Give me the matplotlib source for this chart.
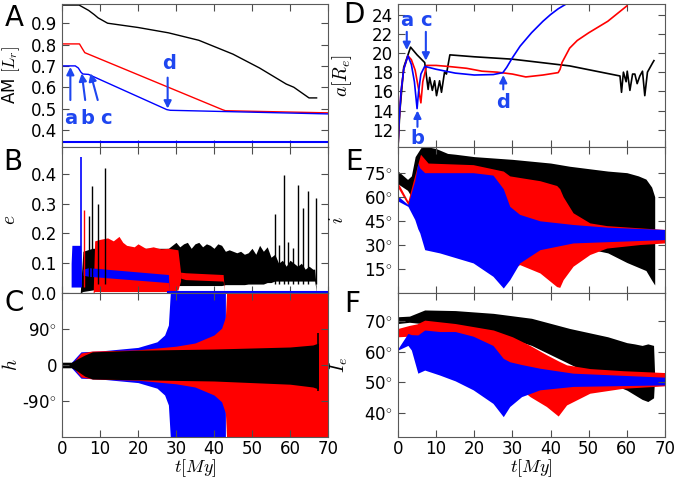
import matplotlib
matplotlib.use("Agg")
import matplotlib.pyplot as plt

plt.rcParams['mathtext.fontset'] = 'cm'
plt.rcParams['font.family'] = ['DejaVu Sans']

BLUE = '#0000ff'
RED = '#ff0000'
ANN = '#1e46f0'

# ---------------- A: angular momentum ----------------
tA_black = [0, 4.5, 5.5, 7, 8.5, 9.5, 11, 12, 20, 28, 36, 45, 52, 59, 61, 63, 65, 67]
am_black = [0.985, 0.985, 0.975, 0.96, 0.94, 0.925, 0.91, 0.90, 0.88, 0.855, 0.82, 0.755,
            0.69, 0.615, 0.60, 0.575, 0.55, 0.55]
tA_red = [0, 4.6, 5.2, 6.0, 42.2, 43, 70]
am_red = [0.803, 0.803, 0.785, 0.762, 0.495, 0.49, 0.48]
tA_blue = [0, 3.5, 4.3, 5.0, 5.5, 7.0, 27.6, 28.5, 70]
am_blue = [0.70, 0.70, 0.69, 0.67, 0.662, 0.66, 0.495, 0.492, 0.475]
tA_base = [0, 70]
am_base = [0.345, 0.345]

# ---------------- B: eccentricity ----------------
tB_blue1 = [2.4, 2.6, 4.9, 5.0]
eB_blue1_hi = [0.10, 0.16, 0.16, 0.12]
eB_blue1_lo = [0.02, 0.02, 0.02, 0.02]
tB_blue2 = [5.5, 7, 28, 28.2]
eB_blue2_hi = [0.08, 0.085, 0.062, 0.0]
eB_blue2_lo = [0.06, 0.056, 0.035, 0.0]
tB_red1 = [8.2, 8.6, 10, 12, 13.5, 15, 16, 17, 19, 20, 22, 24, 26, 28, 30.5, 31.2]
eB_red1_hi = [0.0, 0.175, 0.18, 0.185, 0.175, 0.19, 0.17, 0.16, 0.155, 0.165, 0.15,
              0.155, 0.148, 0.15, 0.145, 0.07]
eB_red1_lo = [0.0, 0.005, 0.005, 0.005, 0.005, 0.005, 0.005, 0.005, 0.005, 0.005, 0.005,
              0.005, 0.005, 0.005, 0.01, 0.04]
tB_red2 = [31.2, 32.5, 42.4, 42.8]
eB_red2_hi = [0.07, 0.068, 0.062, 0.0]
eB_red2_lo = [0.05, 0.045, 0.04, 0.0]
tB_black = [4.8, 5.5, 8, 12, 16, 20, 24, 28, 29, 30, 31, 32, 33, 34, 35, 36, 37, 38, 39,
            40, 41, 42, 43, 44, 45, 46, 47, 48, 49, 50, 51, 52, 53, 54, 55, 56, 57, 58,
            59, 60, 61, 62, 63, 64, 65, 66, 66.5, 67]
eB_black_hi = [0.0, 0.14, 0.15, 0.15, 0.15, 0.15, 0.15, 0.15, 0.16, 0.17, 0.155, 0.165,
               0.17, 0.15, 0.165, 0.17, 0.155, 0.165, 0.16, 0.15, 0.165, 0.16, 0.14,
               0.145, 0.14, 0.135, 0.14, 0.13, 0.135, 0.15, 0.13, 0.16, 0.14, 0.155, 0.12,
               0.13, 0.10, 0.11, 0.09, 0.11, 0.10, 0.09, 0.10, 0.08, 0.09, 0.08, 0.08, 0.0]
eB_black_lo = [0.0, 0.005, 0.01, 0.02, 0.02, 0.02, 0.02, 0.02, 0.025, 0.025, 0.025, 0.025,
               0.025, 0.025, 0.025, 0.025, 0.025, 0.025, 0.025, 0.025, 0.025, 0.025,
               0.028, 0.028, 0.028, 0.028, 0.028, 0.028, 0.03, 0.03, 0.03, 0.03, 0.03,
               0.035, 0.035, 0.04, 0.04, 0.04, 0.04, 0.04, 0.04, 0.04, 0.04, 0.04, 0.04,
               0.04, 0.04, 0.0]
spk_black_t = [7.1, 8.0, 9.6, 11.2, 56.1, 57.2, 58.5, 59.6, 60.8, 62.0, 63.3, 64.8, 66.8]
spk_black_e = [0.26, 0.36, 0.30, 0.42, 0.265, 0.16, 0.397, 0.17, 0.15, 0.364, 0.285, 0.343, 0.318]
spk_blue_t = [5.0]
spk_blue_e = [0.456]
spk_red_t = [5.8]
spk_red_e = [0.28]

# ---------------- C: h (deg) ----------------
tC_blue = [2.5, 5, 10, 20, 25, 27, 28, 28.5, 43]
hC_blue = [7, 33, 35, 44, 58, 75, 100, 180, 180]
tC_red = [3, 5, 8, 20, 30, 35, 40, 42, 43, 43.3, 70]
hC_red = [7, 30, 35, 38, 47, 55, 75, 92, 120, 180, 180]
tC_black = [0, 2.5, 4, 6, 8, 20, 40, 60, 66, 67.5]
hC_black_hi = [7, 7, 15, 25, 33, 37, 40, 45, 50, 55]
hC_black_lo = [-7, -7, -15, -28, -35, -37, -40, -48, -55, -60]

# ---------------- D: semi-major axis ----------------
tD_blue = [0, 0.3, 0.8, 1.5, 2.6, 3.5, 4.3, 5.0, 5.4, 6.0, 7.0, 10, 15, 20, 25, 27.5,
           28.5, 30, 32, 35, 38, 40, 42, 44.5]
aD_blue = [10.2, 13, 16, 18.3, 19.7, 18.8, 17, 14.2, 16, 17.8, 18.6, 18.3, 17.9, 17.7,
           17.75, 17.95, 18.5, 19.5, 20.7, 22.1, 23.3, 24.0, 24.6, 25.2]
tD_red = [0, 0.3, 0.8, 1.5, 2.6, 3.5, 4.5, 5.5, 6.0, 6.5, 7.5, 10, 13, 18, 22, 26, 30,
          33.5, 38, 42, 42.5, 43, 45, 47, 50, 55, 60]
aD_red = [10.2, 13, 16, 18.3, 19.7, 19.3, 18.2, 16, 14.8, 17, 18.7, 18.7, 18.6, 18.4,
          18.1, 18.0, 17.8, 17.5, 17.7, 17.95, 18.3, 19.0, 20.5, 21.3, 22.1, 23.3, 24.9]
tD_black = [0, 0.5, 1.5, 3.3, 5, 7, 7.9, 8.3, 9.0, 9.6, 10.1, 10.9, 11.4, 12.2, 12.7, 13.6,
            20, 30, 45, 58.2, 58.6, 59.1, 59.8, 60.1, 60.8, 61.5, 62.1, 62.7, 63.4, 64.1,
            64.7, 65.4, 66.1, 66.8, 67.1]
aD_black = [10.2, 14, 18.5, 20.6, 19.8, 19.0, 16.2, 17.45, 16.1, 17.1, 15.55, 17.1, 15.9,
            18.0, 17.8, 19.8, 19.6, 19.35, 18.65, 17.6, 15.9, 18.0, 17.0, 18.1, 16.1, 17.8,
            17.8, 16.8, 17.6, 18.1, 15.55, 18.0, 18.5, 19.0, 19.2]

# ---------------- E: inclination i (deg) ----------------
tE_black = [0, 2.5, 3.5, 4.5, 6, 8, 10, 13, 15, 20, 30, 40, 45, 50, 55, 60, 63, 65, 66.5, 67.3]
iE_black_hi = [76, 70.8, 73, 85, 90.6, 91, 90, 87, 86.5, 85, 83.3, 81, 79, 77.5, 76, 75,
               73, 71, 66, 60]
iE_black_lo = [68, 64, 60, 60, 55, 50, 45, 42, 40, 38, 34, 31, 29, 27.5, 25, 19, 16, 14, 8, 5]
tE_red = [0, 2.6, 4, 5.9, 7.9, 19.7, 27.6, 29.3, 31.9, 37.2, 41.6, 42.4, 43.3, 45.9,
          50.3, 54.7, 63.4, 70]
iE_red_hi = [68.7, 57.3, 70, 86.5, 81, 80, 76, 73, 72, 70, 67, 65, 60, 50, 43.7, 42,
             40.6, 39.6]
iE_red_lo = [65.6, 55, 55, 45, 35, 25, 15, 14, 17.7, 12.5, 4, 3.5, 8.3, 16.7, 24, 28,
             30.2, 31.2]
tE_blue = [0, 2.6, 4.4, 5.2, 5.7, 7, 10.9, 19.7, 24.9, 27.6, 29.3, 31.9, 37.2, 45.9, 55, 70]
iE_blue_hi = [60.4, 55.2, 70, 81, 78, 75, 75, 75, 73.5, 65, 54, 49, 45, 42.7, 41, 39.6]
iE_blue_lo = [57.3, 54, 45.8, 40, 37.5, 27, 25, 18.75, 10.4, 3.1, 8.3, 18.75, 27, 31.2,
              32, 33.3]

# ---------------- F: equatorial inclination I_e (deg) ----------------
tF_black = [0, 3, 7, 15, 25, 35, 45, 55, 60, 62, 64, 65.5, 67, 67.3]
IF_black_hi = [71.3, 71.5, 73.5, 73.3, 72.4, 70.8, 67.5, 64.8, 62.9, 62.5, 62, 62.5, 62, 52]
IF_black_lo = [69.1, 69.5, 69, 68, 66, 62, 56, 50, 47.5, 46, 44.5, 43.8, 45, 52]
tF_red = [0, 3, 5, 7, 15, 25, 30, 34.6, 38.9, 42, 44.2, 50.3, 59, 70]
IF_red_hi = [67.5, 68.5, 69, 70.2, 69.1, 67, 64.8, 62, 59, 57, 55.7, 54.5, 53.8, 53.2]
IF_red_lo = [64.8, 65, 63, 60, 58, 55, 50, 45.4, 42.2, 39.1, 42.7, 46.5, 48.1, 48.9]
tF_blue = [0, 2.6, 3.5, 5.2, 7, 10.9, 15, 19.7, 24.9, 27.6, 29.3, 32.4, 37.2, 45.9, 70]
IF_blue_hi = [61, 65.9, 65.5, 65.4, 67, 66.5, 66.5, 65, 62, 57.8, 56.7, 55.8, 54.6, 53, 51.7]
IF_blue_lo = [60.5, 62, 60.5, 53, 54, 52.4, 50.5, 47.6, 43.2, 38.9, 42.2, 45.4, 47.6,
              48.7, 49.2]

xticks = [0, 10, 20, 30, 40, 50, 60, 70]

W, H = 677, 482
fig = plt.figure(figsize=(W / 100, H / 100), dpi=100)


def make_ax(x0, x1, y0, y1):
    ax = fig.add_axes([x0 / W, 1 - y1 / H, (x1 - x0) / W, (y1 - y0) / H])
    ax.set_xlim(0, 70)
    ax.set_xticks(xticks)
    ax.tick_params(direction='in', top=True, right=True, length=5, labelsize=12,
                   color='0.3')
    ax.tick_params(axis='x', pad=2)
    for s in ax.spines.values():
        s.set_color('0.35')
    return ax


rows = [(4, 147), (147, 293), (293, 437)]
axA = make_ax(62, 328, *rows[0])
axB = make_ax(62, 328, *rows[1])
axC = make_ax(62, 328, *rows[2])
axD = make_ax(398, 665, *rows[0])
axE = make_ax(398, 665, *rows[1])
axF = make_ax(398, 665, *rows[2])

for ax in (axA, axB, axD, axE):
    ax.tick_params(labelbottom=False)
for ax in (axC, axF):
    ax.set_xlabel(r'$t[My]$', fontsize=13, labelpad=0)


def arrow(ax, x, y0, y1, x1=None):
    ax.annotate('', xy=(x if x1 is None else x1, y1), xytext=(x, y0),
                arrowprops=dict(arrowstyle='-|>', color=ANN, lw=1.5,
                                mutation_scale=11, shrinkA=0, shrinkB=0))


def label(ax, x, y, s):
    ax.text(x, y, s, color=ANN, fontsize=14, fontweight='bold', ha='center', va='center')


# A
axA.plot(tA_black, am_black, color='k', lw=1)
axA.plot(tA_red, am_red, color=RED, lw=1)
axA.plot(tA_blue, am_blue, color=BLUE, lw=1)
axA.plot(tA_base, am_base, color=BLUE, lw=1.5)
axA.set_ylim(0.32, 0.99)
axA.set_yticks([0.4, 0.5, 0.6, 0.7, 0.8, 0.9])
axA.set_ylabel(r'AM $[L_r]$', fontsize=12)
axA.yaxis.set_label_coords(-0.15, 0.5)
arrow(axA, 2.2, 0.54, 0.695)
arrow(axA, 6.1, 0.54, 0.665, 5.2)
arrow(axA, 9.4, 0.54, 0.665, 7.5)
arrow(axA, 27.8, 0.645, 0.50)
label(axA, 2.2, 0.455, 'a')
label(axA, 6.6, 0.455, 'b')
label(axA, 11.6, 0.455, 'c')
label(axA, 28.2, 0.71, 'd')

# B
axB.fill_between(tB_black, eB_black_lo, eB_black_hi, color='k', lw=0)
axB.vlines(spk_black_t, 0.03, spk_black_e, color='k', lw=1)
axB.fill_between(tB_red1, eB_red1_lo, eB_red1_hi, color=RED, lw=0)
axB.fill_between(tB_red2, eB_red2_lo, eB_red2_hi, color=RED, lw=0)
axB.vlines(spk_red_t, 0.02, spk_red_e, color=RED, lw=1)
axB.fill_between(tB_blue1, eB_blue1_lo, eB_blue1_hi, color=BLUE, lw=0)
axB.fill_between(tB_blue2, eB_blue2_lo, eB_blue2_hi, color=BLUE, lw=0)
axB.vlines(spk_blue_t, 0.02, spk_blue_e, color=BLUE, lw=1.2)
axB.plot([28, 70], [0.002, 0.002], color=BLUE, lw=1.5)
axB.set_ylim(0, 0.49)
axB.set_yticks([0.0, 0.1, 0.2, 0.3, 0.4])
axB.set_ylabel(r'$e$', fontsize=14)
axB.yaxis.set_label_coords(-0.16, 0.5)

# C
axC.fill_between(tC_blue, [-v for v in hC_blue], hC_blue, color=BLUE, lw=0)
axC.fill_between(tC_red, [-v for v in hC_red], hC_red, color=RED, lw=0)
axC.fill_between(tC_black, hC_black_lo, hC_black_hi, color='k', lw=0)
axC.vlines([67.3], -64, 80, color='k', lw=1.2)
axC.set_ylim(-180, 180)
axC.set_yticks([-90, 0, 90])
axC.set_yticklabels([r'-90$^{\circ}$', '0', r'90$^{\circ}$'])
axC.set_ylabel(r'$h$', fontsize=14)
axC.yaxis.set_label_coords(-0.155, 0.5)

# D
axD.plot(tD_black, aD_black, color='k', lw=1.2)
axD.plot(tD_red, aD_red, color=RED, lw=1.2)
axD.plot(tD_blue, aD_blue, color=BLUE, lw=1.2)
axD.set_ylim(10.2, 25.1)
axD.set_yticks([12, 14, 16, 18, 20, 22, 24])
axD.set_ylabel(r'$a[R_e]$', fontsize=14)
axD.yaxis.set_label_coords(-0.165, 0.5)
arrow(axD, 2.3, 22.2, 20.3)
arrow(axD, 7.3, 22.2, 19.2)
arrow(axD, 5.1, 12.3, 14.0)
arrow(axD, 27.6, 16.2, 17.7)
label(axD, 2.2, 23.4, 'a')
label(axD, 7.2, 23.4, 'c')
label(axD, 5.1, 11.1, 'b')
label(axD, 27.6, 14.8, 'd')

# E
axE.fill_between(tE_black, iE_black_lo, iE_black_hi, color='k', lw=0)
axE.fill_between(tE_red, iE_red_lo, iE_red_hi, color=RED, lw=0)
axE.fill_between(tE_blue, iE_blue_lo, iE_blue_hi, color=BLUE, lw=0)
axE.set_ylim(0, 91)
axE.set_yticks([15, 30, 45, 60, 75])
axE.set_yticklabels([r'%d$^{\circ}$' % v for v in [15, 30, 45, 60, 75]])
axE.set_ylabel(r'$i$', fontsize=14)
axE.yaxis.set_label_coords(-0.19, 0.5)

# F
axF.fill_between(tF_black, IF_black_lo, IF_black_hi, color='k', lw=0)
axF.fill_between(tF_red, IF_red_lo, IF_red_hi, color=RED, lw=0)
axF.fill_between(tF_blue, IF_blue_lo, IF_blue_hi, color=BLUE, lw=0)
axF.set_ylim(32.3, 79)
axF.set_yticks([40, 50, 60, 70])
axF.set_yticklabels([r'%d$^{\circ}$' % v for v in [40, 50, 60, 70]])
axF.set_ylabel(r'$I_e$', fontsize=14)
axF.yaxis.set_label_coords(-0.18, 0.5)

# panel letters
for s, px, py in [('A', 14, 18), ('B', 13, 162), ('C', 14, 303),
                  ('D', 354, 15), ('E', 354, 162), ('F', 352, 304)]:
    fig.text(px / W, 1 - py / H, s, fontsize=20, ha='center', va='center')

fig.savefig('out.png', dpi=100)
